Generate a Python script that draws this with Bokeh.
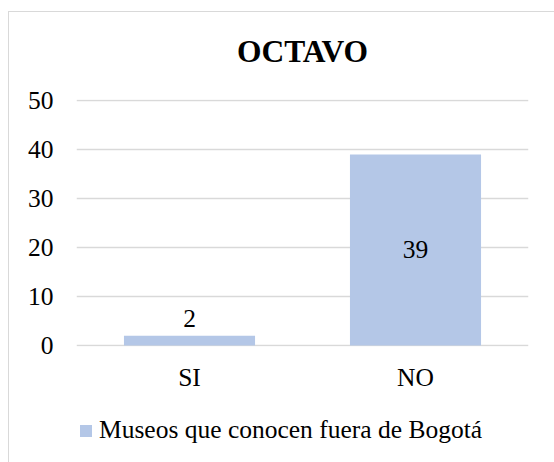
from bokeh.plotting import figure
from bokeh.layouts import column
from bokeh.models import (ColumnDataSource, FactorRange, Range1d, FixedTicker,
                          Legend, LegendItem)
from bokeh.core.properties import value
from bokeh.embed import file_html
from bokeh.resources import INLINE

# ---- data ----
title_text = "OCTAVO"
categories = ["SI", "NO"]
counts = [2, 39]
series_name = "Museos que conocen fuera de Bogotá"
y_ticks = [0, 10, 20, 30, 40, 50]

FONT = "Liberation Serif"
BAR = "#B4C7E7"
GRID = "#D9D9D9"

label_y = [v / 2 if v > 10 else v for v in counts]
label_dy = [0 if v > 10 else -17 for v in counts]
src = ColumnDataSource(dict(cat=categories, val=counts,
                            ly=label_y, dy=label_dy,
                            txt=[str(v) for v in counts]))

chart_border = ("linear-gradient(#D9D9D9, #D9D9D9) 8px 11px / 1px 100% no-repeat, "
                "linear-gradient(#D9D9D9, #D9D9D9) 8px 11px / 100% 1px no-repeat")

x_range = FactorRange(*categories, range_padding=0)

# ---- main chart ----
p = figure(width=554, height=401, output_backend="svg", toolbar_location=None,
           x_range=x_range, y_range=Range1d(-0.2, 50.2),
           min_border_left=76, min_border_right=26,
           min_border_top=99, min_border_bottom=55)
p.outline_line_color = None
p.background_fill_color = "white"
p.border_fill_color = None

p.title.text = title_text
p.title.text_font = FONT
p.title.text_font_size = "31.5px"
p.title.text_font_style = "bold"
p.title.align = "center"
p.title.text_color = "black"
p.title.standoff = 62

p.vbar(x="cat", top="val", width=0.58, source=src, fill_color=BAR,
       line_color=None)
p.text(x="cat", y="ly", text="txt", y_offset="dy", source=src,
       text_font=value(FONT), text_font_size="25.5px", text_align="center",
       text_baseline="middle", text_color="black")

p.xgrid.grid_line_color = None
p.ygrid.grid_line_color = GRID
p.ygrid.grid_line_width = 1.5
p.yaxis.ticker = FixedTicker(ticks=y_ticks)

for ax in (p.xaxis, p.yaxis):
    ax.axis_line_color = None
    ax.major_tick_line_color = None
    ax.minor_tick_line_color = None
    ax.major_tick_out = 0
    ax.major_tick_in = 0
    ax.minor_tick_out = 0
    ax.major_label_text_font = FONT
    ax.major_label_text_font_size = "25.5px"
    ax.major_label_text_color = "black"
p.yaxis.major_label_standoff = 23
p.xaxis.major_label_standoff = 16

# ---- legend strip: same series, its y range keeps the bars out of view ----
q = figure(width=554, height=61, output_backend="svg", toolbar_location=None,
           x_range=x_range, y_range=Range1d(1000, 1001),
           min_border_left=0, min_border_right=0,
           min_border_top=0, min_border_bottom=0)
q.outline_line_color = None
q.background_fill_color = None
q.border_fill_color = None
q.axis.visible = False
q.grid.visible = False
r_leg = q.vbar(x="cat", top="val", width=0.58, source=src, fill_color=BAR,
               line_color=None)

legend = Legend(items=[LegendItem(label=series_name, renderers=[r_leg])],
                location=(2, 17), orientation="horizontal",
                glyph_width=15, glyph_height=15, label_standoff=6,
                padding=0, margin=0, spacing=0,
                label_text_font=FONT, label_text_font_size="25.5px",
                label_text_color="black",
                border_line_color=None, background_fill_alpha=0)
q.add_layout(legend, "center")

layout = column(p, q, spacing=0, styles={"background": chart_border})

open("out.html", "w").write(file_html(layout, INLINE))
